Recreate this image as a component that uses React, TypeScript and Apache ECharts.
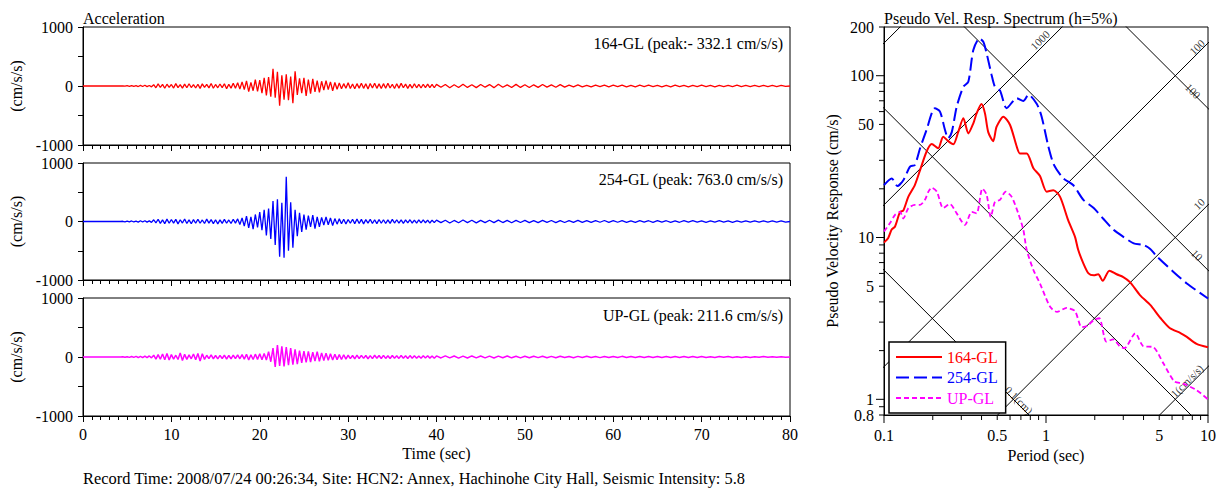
import React, { useEffect, useRef } from 'react';
import * as echarts from 'echarts';

const FONT = "'Liberation Serif', 'Times New Roman', serif";

// ---- Acceleration records (cm/s/s), 0–39.75 s at 0.25 s, then 40–80 s at 0.5 s ----
const DT_MAIN = 0.25;
const DT_TAIL = 0.5;
const TAIL_START = 40;

const acc164Main = [
  0, 0, 0, 0, 0, 0, 0, 0, 0, 0, 0, 0, 0, 0, 0, 0, 0, 0,
  3, -4, 6, -5, 8, -7, 5, -9, 10, -8, 12, -10, 9, -14,
  22, -30, 35, -25, 28, -38, 30, -22, 26, -35, 40, -28, 24, -36, 32, -30, 38, -26, 22, -34,
  30, -40, 36, -24, 28, -32, 42, -38, 26, -30, 34, -28, 38, -45, 30, -36, 48, -40, 55, -50,
  70, -60, 85, -95, 60, -80, 110, -90,
  100, -120, 140, -160, 150, -180, 290, -200,
  240, -332, 180, -230,
  200, -240, 160, -290,
  250, -150, 130, -120,
  140, -170, 110, -130, 120, -100, 90, -110,
  80, -70, 90, -60, 70, -80, 60, -55,
  50, -45, 40, -38, 55, -42, 35, -48, 40, -36, 45, -40, 38, -50, 42, -35, 48, -40, 36, -44,
  40, -38, 46, -34, 30, -42, 38, -36, 45, -30, 32, -40, 28, -35, 38, -30, 26, -34, 30, -28, 32, -26, 28, -30,
];
const acc164Tail = [
  28, -22, 25, -30, 20, -26, 30, -24, 22, -28,
  26, -20, 24, -28, 30, -22, 20, -25, 28, -24,
  22, -26, 20, -24, 25, -20, 18, -22, 24, -20,
  16, -14, 18, -15, 12, -16, 14, -12, 15, -13,
  14, -12, 16, -14, 12, -15, 13, -11, 14, -12,
  12, -14, 11, -13, 15, -12, 10, -13, 12, -11,
  13, -11, 12, -14, 10, -12, 11, -10, 13, -12,
  10, -12, 11, -9, 12, -10, 9, -11, 10, -8,
  0,
];

const acc254Main = [
  0, 0, 0, 0, 0, 0, 0, 0, 0, 0, 0, 0, 0, 0, 0, 0, 0, 0,
  4, -5, 7, -6, 9, -8, 6, -10, 12, -9, 14, -11, 10, -15,
  30, -25, 38, -32, 28, -36, 40, -30, 34, -28, 36, -40, 30, -26, 42, -34, 28, -38, 32, -30,
  38, -30, 26, -34, 40, -28, 32, -36, 30, -40, 28, -32, 36, -30, 26, -34, 38, -28, 45, -50,
  60, -80, 90, -110, 80, -130, 120, -100,
  160, -150, 200, -240, 220, -300, 350, -400,
  380, -600, 320, -620, 763, -500, 330, -450,
  200, -250, 150, -180,
  120, -140, 100, -90, 110, -120, 80, -90,
  70, -60, 80, -55, 60, -70, 50, -45,
  45, -38, 40, -42, 35, -30, 38, -36, 42, -34, 36, -40, 32, -28, 38, -34, 30, -36, 34, -30,
  30, -34, 28, -32, 36, -26, 30, -28, 26, -32, 28, -24, 30, -26, 22, -28, 26, -24, 28, -22, 24, -26, 22, -20,
];
const acc254Tail = [
  24, -20, 22, -26, 18, -22, 25, -20, 21, -24,
  20, -18, 22, -20, 24, -18, 19, -22, 20, -17,
  18, -20, 16, -18, 20, -15, 17, -19, 15, -17,
  16, -14, 18, -15, 14, -16, 15, -13, 17, -14,
  15, -13, 14, -16, 12, -14, 15, -12, 13, -14,
  14, -12, 13, -15, 12, -13, 14, -11, 13, -12,
  12, -14, 11, -12, 13, -10, 12, -13, 11, -12,
  10, -12, 11, -10, 12, -9, 11, -10, 9, -10,
  0,
];

const accUpMain = [
  0, 0, 0, 0, 0, 0, 0, 0, 0, 0, 0, 0, 0, 0, 0, 0, 0, 0,
  3, -4, 5, -6, 8, -7, 10, -9, 12, -10, 14, -12, 18, -15,
  30, -35, 40, -38, 50, -45, 60, -50,
  40, -35, 30, -42, 70, -60, 45, -40,
  35, -30, 50, -45, 60, -70, 55, -40,
  30, -28, 35, -30, 25, -32, 28, -26,
  30, -34, 26, -30, 32, -28, 35, -30,
  40, -36, 45, -50, 38, -42, 48, -40,
  55, -45, 60, -50, 90, -80, 150, -170,
  200, -150, 180, -160, 170, -140, 150, -130,
  130, -120, 110, -100, 100, -90, 95, -85,
  80, -70, 90, -75, 70, -60, 65, -55,
  55, -50, 48, -45, 40, -42, 38, -35,
  30, -28, 25, -30, 32, -26, 28, -24, 26, -30, 24, -28, 30, -22, 26, -25, 28, -24, 22, -26,
  25, -22, 20, -24, 26, -20, 22, -25, 24, -20, 20, -22, 18, -20, 22, -18, 20, -19, 18, -20,
];
const accUpTail = [
  18, -16, 20, -15, 17, -18, 15, -16, 18, -14,
  16, -15, 14, -17, 15, -13, 16, -14, 13, -15,
  12, -14, 13, -11, 14, -12, 11, -13, 12, -10,
  10, -12, 11, -10, 12, -9, 10, -11, 9, -10,
  10, -9, 11, -8, 9, -10, 8, -9, 10, -8,
  8, -9, 7, -8, 9, -7, 8, -8, 7, -8,
  7, -8, 6, -7, 8, -6, 7, -7, 6, -7,
  6, -7, 5, -6, 7, -5, 6, -6, 5, -6,
  0,
];

const waveNames = ['164-GL', '254-GL', 'UP-GL'];
const waveNotes = ['164-GL (peak:- 332.1 cm/s/s)', '254-GL (peak: 763.0 cm/s/s)', 'UP-GL (peak: 211.6 cm/s/s)'];
const accTicks = [-1000, -500, 0, 500, 1000];

// ---- Pseudo velocity response spectra (h=5%) ----
const spec164T = [0.1, 0.106, 0.1115, 0.117, 0.1256, 0.1316, 0.1414, 0.155, 0.167, 0.183, 0.197, 0.216, 0.232, 0.249, 0.268, 0.287, 0.309, 0.3315, 0.356, 0.373, 0.40, 0.42, 0.44, 0.472, 0.4956, 0.546, 0.6, 0.66, 0.69, 0.76, 0.836, 0.918, 1.01, 1.11, 1.22, 1.37, 1.51, 1.58, 1.70, 1.83, 1.97, 2.1, 2.24, 2.46, 2.73, 3.0, 3.3, 3.8, 4.4, 5.1, 5.8, 6.8, 7.4, 8.5, 10];
const spec164V = [9.3, 9.9, 11.2, 11.7, 14.4, 14.7, 17.9, 21.1, 26.1, 33.9, 37.8, 35.6, 42, 39.4, 37.7, 44.8, 54.5, 44.0, 50.8, 58.5, 66.8, 58.5, 44.8, 39.4, 48.4, 55.8, 49.6, 36.4, 33.1, 33.1, 26.8, 24.0, 19.2, 19.6, 17.9, 12.8, 10.1, 8.4, 6.93, 6.0, 5.84, 5.93, 5.4, 6.24, 5.93, 5.7, 5.3, 4.41, 3.83, 3.17, 2.76, 2.56, 2.43, 2.2, 2.1];
const spec254T = [0.1, 0.1115, 0.121, 0.1316, 0.1448, 0.155, 0.167, 0.183, 0.206, 0.2216, 0.238, 0.249, 0.262, 0.281, 0.309, 0.3315, 0.356, 0.388, 0.41, 0.43, 0.4617, 0.484, 0.52, 0.5715, 0.66, 0.724, 0.78, 0.878, 0.94, 1.035, 1.12, 1.28, 1.47, 1.70, 1.97, 2.25, 2.6, 3.0, 3.48, 3.98, 4.4, 4.8, 6.1, 7.4, 10];
const spec254V = [21.1, 23.2, 20.8, 22.6, 27.4, 28.1, 35.6, 46.2, 62.9, 60, 46.2, 41, 44.8, 64.3, 85.5, 91.7, 144, 170, 162, 137.5, 101, 85.5, 81, 63, 72.6, 69.8, 76.3, 66.8, 55.8, 36.4, 28.1, 23.2, 21.1, 17.1, 15.2, 13.1, 11.2, 10.1, 9.2, 9.0, 8.5, 7.7, 6.15, 5.2, 4.2];
const specUpT = [0.1, 0.109, 0.117, 0.1256, 0.1316, 0.1414, 0.155, 0.167, 0.179, 0.188, 0.197, 0.212, 0.232, 0.255, 0.281, 0.316, 0.348, 0.373, 0.405, 0.43, 0.456, 0.484, 0.52, 0.564, 0.613, 0.674, 0.724, 0.76, 0.836, 0.918, 1.06, 1.17, 1.34, 1.51, 1.66, 1.8, 1.97, 2.13, 2.36, 2.6, 2.85, 3.05, 3.56, 3.98, 4.6, 5.3, 6.2, 7.0, 8.5, 10];
const specUpV = [10.9, 12.3, 13.8, 14.4, 13.1, 15.2, 15.9, 15.9, 17.1, 19.2, 20.3, 19.2, 15.2, 16.1, 14.1, 11.96, 14.4, 14.1, 20.1, 18.4, 13.4, 16.6, 17.1, 19.2, 17.9, 14.1, 11.2, 8.4, 6.3, 5.2, 3.73, 3.47, 3.67, 3.51, 2.79, 2.84, 3.09, 3.17, 2.27, 2.35, 2.13, 2.07, 2.56, 2.13, 2.1, 1.67, 1.29, 1.25, 1.14, 1.0];

// tripartite grid levels
const dispLevels = [0.1, 1, 10, 100]; // cm
const accLevels = [1, 10, 100, 1000, 10000]; // cm/s/s

// axis tick values of the log panel
const periodLabels = [0.1, 0.5, 1, 5, 10];
const periodMajor = [0.1, 1, 10];
const periodMinor = [0.2, 0.3, 0.4, 0.5, 0.6, 0.7, 0.8, 0.9, 2, 3, 4, 5, 6, 7, 8, 9];
const velLabels = [0.8, 1, 5, 10, 50, 100, 200];
const velMajor = [1, 10, 100];
const velMinor = [0.8, 0.9, 2, 3, 4, 5, 6, 7, 8, 9, 20, 30, 40, 50, 60, 70, 80, 90, 200];
const VEL_MIN = 0.8;
const VEL_MAX = 200;

// grid-line labels: text, anchor [T, Sv], rotation
const gridLabelText = ['1000', '100', '100', '10', '10', '1(cm/s/s)', '0.1(cm)'];
const gridLabelAt = [[0.918, 166], [8.55, 150], [8.07, 80.4], [8.8, 16.1], [8.55, 7.8], [7.41, 1.3], [0.681, 0.99]];
const gridLabelRot = [45, 45, -45, 45, -45, 45, -45];

const RED = '#ff0000';
const BLUE = '#0000ff';
const MAG = '#ff00ff';
const waveColors = [RED, BLUE, MAG];

function toPairs(main: number[], tail: number[]) {
  const a = main.map((v, i) => [i * DT_MAIN, v]);
  const b = tail.map((v, j) => [TAIL_START + j * DT_TAIL, v]);
  return a.concat(b);
}
function zip(t: number[], v: number[]) {
  return t.map((x, i) => [x, v[i]]);
}
const fmtLog = (v: number) => String(+(+v).toPrecision(3));

function buildOption() {
  const waves = [toPairs(acc164Main, acc164Tail), toPairs(acc254Main, acc254Tail), toPairs(accUpMain, accUpTail)];
  const leftGrids = [
    { left: 83, top: 27, width: 707, height: 118 },
    { left: 83, top: 163, width: 707, height: 117 },
    { left: 83, top: 298, width: 707, height: 118 },
  ];
  const grid: any[] = leftGrids.map((g) => ({ ...g, show: true, borderColor: '#000', borderWidth: 1, backgroundColor: 'transparent' }));
  grid.push({ left: 884, top: 27, width: 324, height: 388, show: true, borderColor: '#000', borderWidth: 1, backgroundColor: 'transparent' });

  const textStyle = { fontFamily: FONT, fontSize: 16, color: '#000' };

  const xAxis: any[] = [0, 1, 2].map((i) => ({
    type: 'value',
    gridIndex: i,
    min: 0,
    max: 80,
    interval: 10,
    axisLine: { show: true, onZero: false, lineStyle: { color: '#000', width: 1 } },
    axisTick: { show: true, length: 6, inside: false, lineStyle: { color: '#000' } },
    minorTick: { show: true, splitNumber: 10, length: 4, lineStyle: { color: '#000' } },
    splitLine: { show: false },
    axisLabel: { show: i === 2, ...textStyle, margin: 10 },
    name: i === 2 ? 'Time (sec)' : '',
    nameLocation: 'middle',
    nameGap: 29,
    nameTextStyle: textStyle,
  }));
  xAxis.push({
    type: 'log',
    gridIndex: 3,
    logBase: 10,
    min: 0.1,
    max: 10,
    axisLine: { show: true, onZero: false, lineStyle: { color: '#000' } },
    axisTick: { show: false },
    minorTick: { show: false },
    splitLine: { show: false },
    axisLabel: { ...textStyle, margin: 12, showMinLabel: true, showMaxLabel: true, customValues: periodLabels, formatter: fmtLog },
    name: 'Period (sec)',
    nameLocation: 'middle',
    nameGap: 29,
    nameTextStyle: textStyle,
  });

  const yAxis: any[] = [0, 1, 2].map((i) => ({
    type: 'value',
    gridIndex: i,
    min: accTicks[0],
    max: accTicks[accTicks.length - 1],
    interval: 500,
    axisLine: { show: true, onZero: false, lineStyle: { color: '#000' } },
    axisTick: { show: true, length: 5, lineStyle: { color: '#000' } },
    splitLine: { show: false },
    axisLabel: { ...textStyle, margin: 10, formatter: (v: number) => (v % 1000 === 0 ? String(v) : '') },
    name: '(cm/s/s)',
    nameLocation: 'middle',
    nameGap: 56,
    nameRotate: 90,
    nameTextStyle: textStyle,
  }));
  yAxis.push({
    type: 'log',
    gridIndex: 3,
    logBase: 10,
    min: VEL_MIN,
    max: VEL_MAX,
    axisLine: { show: true, onZero: false, lineStyle: { color: '#000' } },
    axisTick: { show: false },
    minorTick: { show: false },
    splitLine: { show: false },
    axisLabel: { show: false },
    name: 'Pseudo Velocity Response (cm/s)',
    nameLocation: 'middle',
    nameGap: 44,
    nameRotate: 90,
    nameTextStyle: textStyle,
  });

  const series: any[] = [];
  waves.forEach((d, i) => {
    series.push({
      type: 'line',
      name: 'wave-' + waveNames[i],
      xAxisIndex: i,
      yAxisIndex: i,
      data: d,
      showSymbol: false,
      symbol: 'none',
      lineStyle: { color: waveColors[i], width: i === 2 ? 1.5 : 1.3 },
      itemStyle: { color: waveColors[i] },
      silent: true,
      z: 3,
    });
  });

  // tripartite grid
  const Tends = [0.05, 20];
  dispLevels.forEach((D) => {
    series.push({
      type: 'line', xAxisIndex: 3, yAxisIndex: 3, silent: true, clip: true, symbol: 'none', showSymbol: false,
      data: Tends.map((T) => [T, (2 * Math.PI * D) / T]),
      lineStyle: { color: '#000', width: 1 }, z: 1,
    });
  });
  accLevels.forEach((A) => {
    series.push({
      type: 'line', xAxisIndex: 3, yAxisIndex: 3, silent: true, clip: true, symbol: 'none', showSymbol: false,
      data: Tends.map((T) => [T, (A * T) / (2 * Math.PI)]),
      lineStyle: { color: '#000', width: 1 }, z: 1,
    });
  });
  series.push({
    type: 'scatter', xAxisIndex: 3, yAxisIndex: 3, silent: true, symbolSize: 2,
    itemStyle: { color: 'rgba(0,0,0,0)' },
    data: gridLabelAt.map((p, i) => ({
      value: p,
      label: { show: true, position: 'inside', formatter: gridLabelText[i], rotate: gridLabelRot[i], fontFamily: FONT, fontSize: 11, color: '#000' },
    })),
    z: 2,
  });

  // spectra
  const specs = [
    { name: '164-GL', data: zip(spec164T, spec164V), color: RED, type: 'solid', width: 2 },
    { name: '254-GL', data: zip(spec254T, spec254V), color: BLUE, type: [13, 5], width: 2 },
    { name: 'UP-GL', data: zip(specUpT, specUpV), color: MAG, type: [5, 3], width: 1.8 },
  ];
  specs.forEach((s) => {
    series.push({
      type: 'line', name: s.name, xAxisIndex: 3, yAxisIndex: 3, data: s.data, symbol: 'none', showSymbol: false,
      smooth: 0.25, clip: true,
      lineStyle: { color: s.color, width: s.width, type: s.type },
      itemStyle: { color: s.color },
      z: 3,
    });
  });

  // log-axis ticks
  const xTickData = periodMajor.map((v) => [v, VEL_MIN, 1]).concat(periodMinor.map((v) => [v, VEL_MIN, 0]));
  const yTickData = velMajor.map((v) => [0.1, v, 1]).concat(velMinor.map((v) => [0.1, v, 0]));
  series.push({
    type: 'custom', xAxisIndex: 3, yAxisIndex: 3, silent: true, clip: false, data: xTickData, z: 4,
    renderItem: (params: any, api: any) => {
      const p = api.coord([api.value(0), api.value(1)]);
      const len = api.value(2) ? 8 : 5;
      return { type: 'line', shape: { x1: p[0], y1: p[1], x2: p[0], y2: p[1] + len }, style: { stroke: '#000', lineWidth: 1 } };
    },
  });
  series.push({
    type: 'custom', xAxisIndex: 3, yAxisIndex: 3, silent: true, clip: false, data: yTickData, z: 4,
    renderItem: (params: any, api: any) => {
      const p = api.coord([api.value(0), api.value(1)]);
      const len = api.value(2) ? 8 : 5;
      return { type: 'line', shape: { x1: p[0] - len, y1: p[1], x2: p[0], y2: p[1] }, style: { stroke: '#000', lineWidth: 1 } };
    },
  });
  // velocity axis labels
  series.push({
    type: 'custom', xAxisIndex: 3, yAxisIndex: 3, silent: true, clip: false, data: velLabels.map((v) => [0.1, v]), z: 4,
    renderItem: (params: any, api: any) => {
      const v = api.value(1);
      const p = api.coord([api.value(0), v]);
      return {
        type: 'text', x: p[0] - 10, y: p[1],
        style: { text: fmtLog(v), font: `16px ${FONT}`, fill: '#000', align: 'right', verticalAlign: 'middle' },
      };
    },
  });

  const noteY = [43, 179, 315];
  const graphic: any[] = [
    { type: 'text', x: 83, y: 18, style: { text: 'Acceleration', font: `16px ${FONT}`, fill: '#000', verticalAlign: 'middle' } },
    { type: 'text', x: 884, y: 18, style: { text: 'Pseudo Vel. Resp. Spectrum (h=5%)', font: `16px ${FONT}`, fill: '#000', verticalAlign: 'middle' } },
    { type: 'text', x: 83, y: 478, style: { text: 'Record Time: 2008/07/24 00:26:34, Site: HCN2: Annex, Hachinohe City Hall, Seismic Intensity: 5.8', font: `16.4px ${FONT}`, fill: '#000', verticalAlign: 'middle' } },
  ];
  waveNotes.forEach((t, i) => {
    graphic.push({ type: 'text', x: 783, y: noteY[i], style: { text: t, font: `16px ${FONT}`, fill: '#000', align: 'right', verticalAlign: 'middle' } });
  });

  return {
    animation: false,
    backgroundColor: '#fff',
    textStyle: { fontFamily: FONT },
    grid,
    xAxis,
    yAxis,
    legend: {
      data: specs.map((s) => ({ name: s.name, textStyle: { color: s.color } })),
      orient: 'vertical',
      left: 889,
      top: 342,
      itemWidth: 46,
      itemHeight: 14,
      itemGap: 4.5,
      padding: [7, 8, 7, 6],
      backgroundColor: '#fff',
      borderColor: '#000',
      borderWidth: 1.5,
      borderRadius: 0,
      itemStyle: { opacity: 0 },
      textStyle: { fontFamily: FONT, fontSize: 16 },
      selectedMode: false,
      z: 10,
    },
    graphic,
    series,
  };
}

export default function App() {
  const ref = useRef<HTMLDivElement>(null);
  useEffect(() => {
    if (!ref.current) return;
    const chart = echarts.init(ref.current, null, { renderer: 'svg' });
    chart.setOption(buildOption() as any);
    return () => chart.dispose();
  }, []);
  return <div ref={ref} style={{ position: 'fixed', left: 0, top: 0, width: 1226, height: 493, background: '#fff' }} />;
}
